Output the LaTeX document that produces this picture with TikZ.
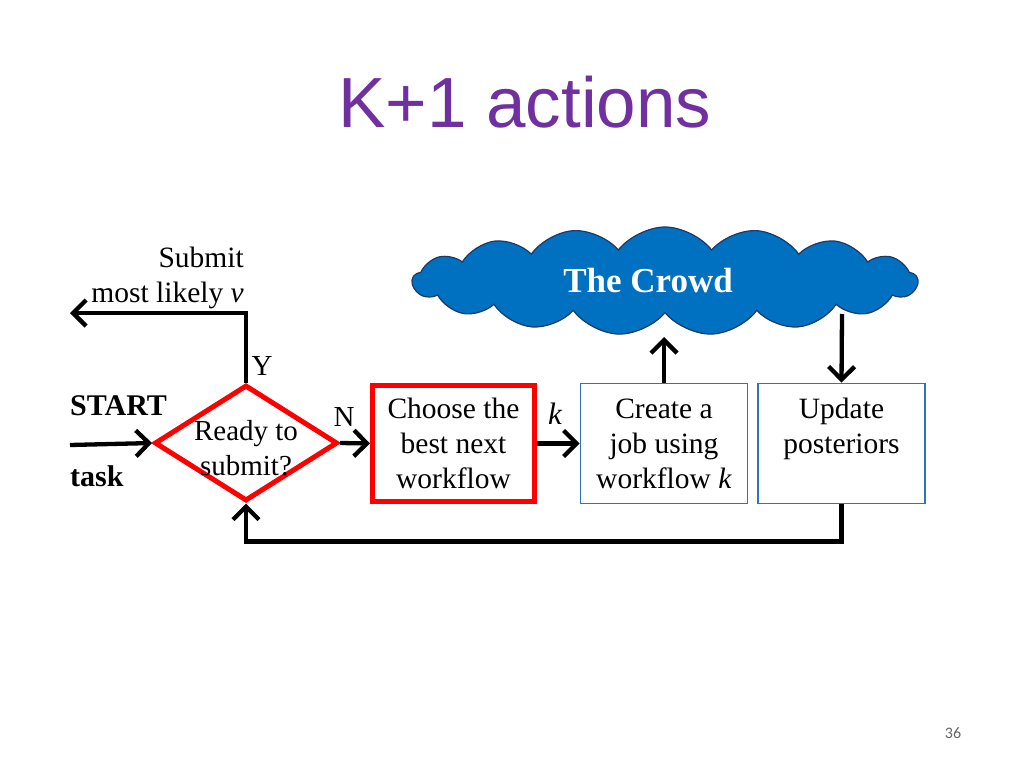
\documentclass[tikz,border=0pt]{standalone}
\usepackage{fontspec}
\setmainfont{Liberation Serif}
\newfontfamily\titlefont{Liberation Sans}
\newfontfamily\numfont{Carlito}
\usetikzlibrary{arrows.meta,shapes.geometric,shapes.symbols}
\definecolor{titlepurple}{HTML}{7030A0}
\definecolor{boxblue}{HTML}{2E75B6}
\definecolor{crowdfill}{HTML}{0070C0}
\definecolor{crowdline}{HTML}{1F3864}
\definecolor{boxred}{HTML}{FF0000}
\begin{document}
\begin{tikzpicture}[x=1pt,y=-1pt,
  conn/.style={line width=4.3pt,-{Straight Barb[length=13pt,width=26pt]}},
  redbox/.style={draw=boxred,line width=5pt,minimum width=162pt,minimum height=116pt,inner sep=0pt,align=center,font=\fontsize{29.5}{35}\selectfont},
  bluebox/.style={draw=boxblue,line width=1.8pt,minimum width=167pt,minimum height=120pt,inner sep=0pt,align=center,font=\fontsize{29.5}{35}\selectfont},
  lbl/.style={font=\fontsize{29}{32}\selectfont,inner sep=0pt}
]
\useasboundingbox (0,0) rectangle (1024,768);
\node[font=\titlefont\fontsize{71}{80}\selectfont,text=titlepurple,anchor=base] (title) at (525,127) {K+1 actions};
\node[font=\numfont\fontsize{16}{18}\selectfont,text=black!60] (pnum) at (953,733) {36};

% cloud
\node[cloud,cloud puffs=17,cloud puff arc=105,aspect=4.8,minimum width=505pt,minimum height=108pt,inner sep=0pt,fill=crowdfill,draw=crowdline,line width=1.2pt] (crowd) at (665,281) {};
\node[text=white,font=\bfseries\fontsize{35}{38}\selectfont] (crowdtxt) at (648,281) {The Crowd};

% decision
\node[diamond,draw=boxred,line width=5pt,minimum width=183pt,minimum height=116pt,aspect=1.58,inner sep=0pt] (ready) at (246,443) {};
\node[align=center,font=\fontsize{29}{35}\selectfont,inner sep=0pt] (readytxt) at (246,448) {Ready to\\submit?};

% boxes
\node[redbox] (choose) at (453.5,443.5) {Choose the\\best next\\workflow};
\node[bluebox] (create) at (664,443.5) {Create a\\job using\\workflow \textit{k}};
\node[bluebox] (update) at (841.5,443.5) {Update\\posteriors\\\phantom{x}};

% labels
\node[lbl] (nlbl) at (344,417) {N};
\node[lbl] (ylbl) at (262,366) {Y};
\node[lbl,font=\itshape\fontsize{31}{32}\selectfont] (klbl) at (555,414) {k};
\node[lbl,font=\bfseries\fontsize{30}{30}\selectfont,anchor=west] (start) at (70,406) {START};
\node[lbl,font=\bfseries\fontsize{30}{30}\selectfont,anchor=west] (task) at (70,476) {task};
\node[font=\fontsize{29.5}{35}\selectfont,align=right,anchor=east,inner sep=0pt] (submit) at (244,278) {Submit\\most likely \textit{v}};

% coordinates
\coordinate (startpt) at (70,445);
\coordinate (submitend) at (70,313);
\coordinate (crowdbot) at (664,337);
\coordinate (crowdout) at (842,314);

% connectors
\draw[conn] (startpt) -- (ready.west);
\draw[conn] (ready.north) |- (submitend);
\draw[conn] (ready.east) -- (choose.west);
\draw[conn] (choose.east) -- (create.west);
\draw[conn] (create.north) -- (crowdbot);
\draw[conn] (crowdout) -- (update.north);
\draw[conn] (update.south) -- ++(0,37) -| (ready.south);
\end{tikzpicture}
\end{document}
